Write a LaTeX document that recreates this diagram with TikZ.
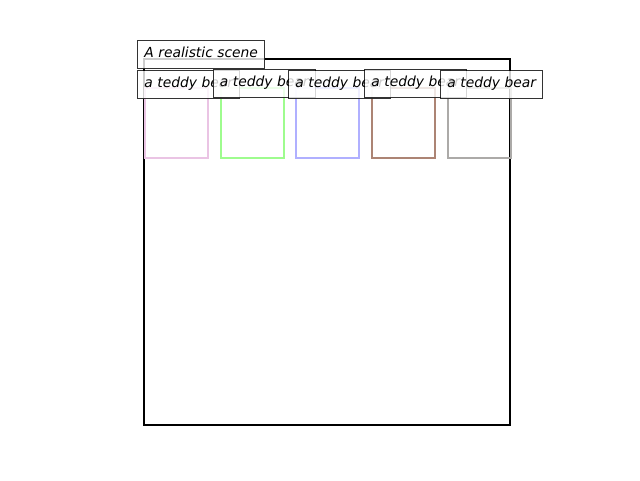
\documentclass[tikz,border=0pt]{standalone}
\usepackage{fontspec}
\setmainfont{DejaVu Sans}
\definecolor{bpink}{RGB}{234,196,228}
\definecolor{bgreen}{RGB}{158,252,142}
\definecolor{bblue}{RGB}{176,176,255}
\definecolor{bbrown}{RGB}{172,132,116}
\definecolor{bgray}{RGB}{172,170,168}
\tikzset{
  bearbox/.style={draw=#1, line width=1.7pt, minimum width=47.25pt, minimum height=52.5pt, inner sep=0pt, anchor=north west},
  lbl/.style={draw=black, draw opacity=0.8, fill=white, fill opacity=0.8, text opacity=1, line width=0.75pt,
    font=\fontsize{10.4}{12}\selectfont\itshape, inner xsep=5.2pt, inner ysep=0pt,
    text height=0.7em, text depth=0.3em, minimum height=21pt, anchor=north west},
  scenebox/.style={draw=black, line width=1.6pt}
}
\begin{document}
\begin{tikzpicture}[x=0.75pt, y=-0.75pt]
\fill[white] (0,0) rectangle (640,480);
\useasboundingbox (0,0) rectangle (640,480);
\draw[scenebox] (144,59) rectangle (510,425);
\node[bearbox=bpink]  (b1) at (144,87) {};
\node[bearbox=bgreen] (b2) at (219.5,87) {};
\node[bearbox=bblue]  (b3) at (295,87) {};
\node[bearbox=bbrown] (b4) at (371,87) {};
\node[bearbox=bgray]  (b5) at (447,87) {};
\node[lbl] (title) at (137,40) {A realistic scene};
\node[lbl] (l1) at (137,70) {a teddy bear};
\node[lbl] (l2) at (212.5,69) {a teddy bear};
\node[lbl] (l3) at (288,70) {a teddy bear};
\node[lbl] (l4) at (364,69) {a teddy bear};
\node[lbl] (l5) at (440,70) {a teddy bear};
\end{tikzpicture}
\end{document}
